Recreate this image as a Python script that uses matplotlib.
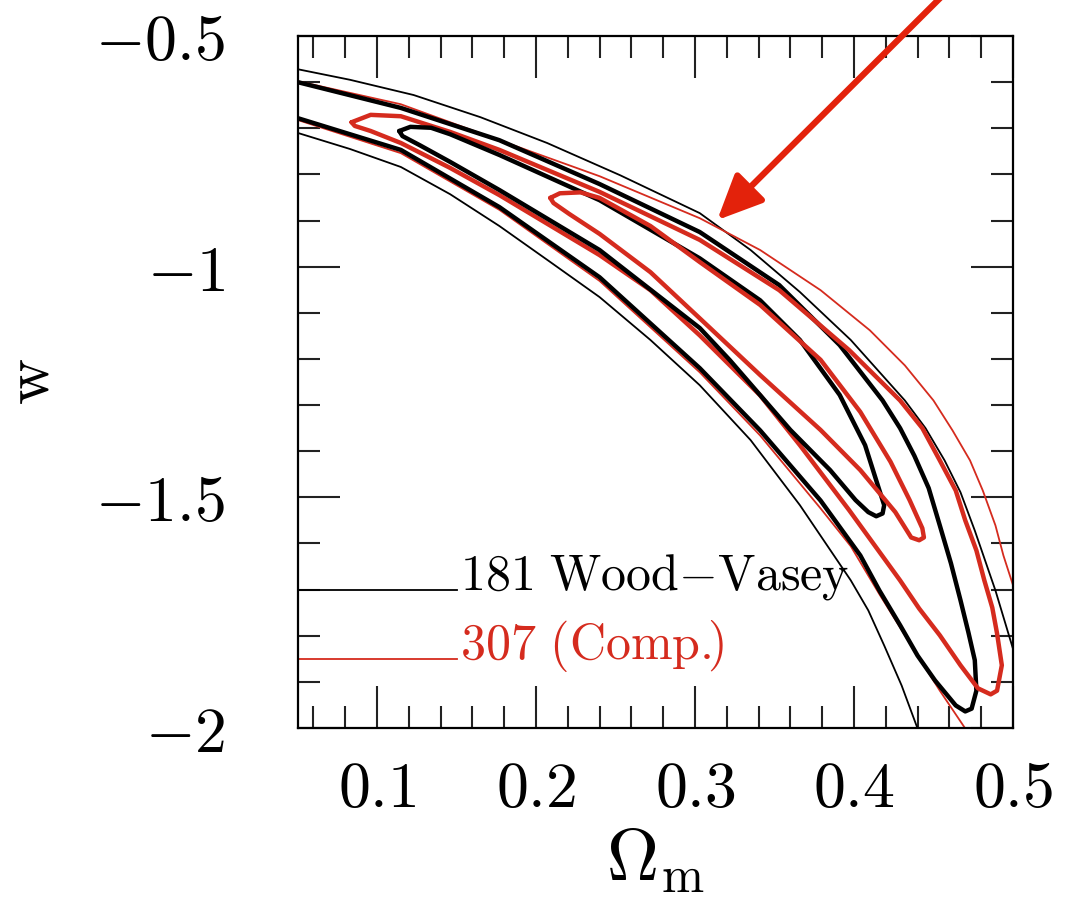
import matplotlib
matplotlib.use('Agg')
import matplotlib.pyplot as plt
import numpy as np
from matplotlib.ticker import MultipleLocator, FuncFormatter

plt.rcParams['mathtext.fontset'] = 'cm'
plt.rcParams['font.family'] = 'DejaVu Serif'

# 181 Wood-Vasey SNe: inner (closed), middle (open to the left) and outer contours
wv_in_om = [0.114, 0.121, 0.134, 0.146, 0.177, 0.240, 0.303, 0.341, 0.366, 0.391, 0.407, 0.415, 0.419,
            0.418, 0.414, 0.409, 0.401, 0.385, 0.360, 0.322, 0.303, 0.240, 0.177, 0.146, 0.127, 0.116]
wv_in_w = [-0.706, -0.697, -0.699, -0.713, -0.758, -0.856, -0.982, -1.073, -1.159, -1.278, -1.387, -1.474, -1.517,
           -1.535, -1.541, -1.532, -1.506, -1.441, -1.354, -1.203, -1.133, -0.964, -0.834, -0.773, -0.737, -0.717]

wv_mid_om = [0.050, 0.115, 0.177, 0.240, 0.303, 0.353, 0.391, 0.418, 0.429, 0.438, 0.447, 0.454, 0.461, 0.467,
             0.472, 0.476, 0.477, 0.474, 0.470, 0.464, 0.451, 0.440, 0.429, 0.416, 0.404, 0.379, 0.341, 0.303,
             0.240, 0.177, 0.115, 0.050]
wv_mid_w = [-0.600, -0.656, -0.726, -0.821, -0.925, -1.040, -1.170, -1.290, -1.350, -1.410, -1.480, -1.561, -1.643,
            -1.723, -1.793, -1.853, -1.919, -1.958, -1.964, -1.951, -1.897, -1.843, -1.777, -1.702, -1.626, -1.507,
            -1.355, -1.220, -1.023, -0.871, -0.747, -0.678]

wv_out_hi_om = [0.050, 0.083, 0.123, 0.165, 0.207, 0.253, 0.303, 0.335, 0.366, 0.398, 0.432, 0.445, 0.457, 0.467,
                0.476, 0.482, 0.489, 0.500]
wv_out_hi_w = [-0.572, -0.595, -0.628, -0.676, -0.732, -0.802, -0.884, -0.964, -1.055, -1.159, -1.290, -1.350,
               -1.420, -1.489, -1.572, -1.632, -1.702, -1.828]

wv_out_lo_om = [0.050, 0.083, 0.115, 0.146, 0.177, 0.209, 0.240, 0.272, 0.303, 0.335, 0.366, 0.398, 0.409,
                0.419, 0.430, 0.440]
wv_out_lo_w = [-0.710, -0.745, -0.784, -0.843, -0.912, -0.990, -1.066, -1.159, -1.257, -1.376, -1.517, -1.680,
               -1.745, -1.821, -1.908, -2.001]

# 307 SNe (compilation)
cp_in_om = [0.209, 0.215, 0.228, 0.240, 0.272, 0.303, 0.341, 0.379, 0.404, 0.423, 0.435, 0.443,
            0.444, 0.441, 0.436, 0.426, 0.404, 0.379, 0.341, 0.303, 0.272, 0.240, 0.221, 0.211]
cp_in_w = [-0.851, -0.841, -0.839, -0.851, -0.912, -0.990, -1.083, -1.202, -1.315, -1.423, -1.506, -1.567,
           -1.587, -1.593, -1.587, -1.532, -1.441, -1.354, -1.235, -1.112, -1.012, -0.929, -0.886, -0.862]

cp_mid_om = [0.084, 0.096, 0.115, 0.146, 0.177, 0.240, 0.303, 0.353, 0.397, 0.429, 0.443, 0.454, 0.464, 0.470,
             0.477, 0.482, 0.487, 0.490, 0.493, 0.490, 0.486, 0.478, 0.467, 0.454, 0.441, 0.429, 0.413, 0.397,
             0.366, 0.341, 0.303, 0.272, 0.240, 0.177, 0.146, 0.115, 0.096, 0.086]
cp_mid_w = [-0.687, -0.671, -0.674, -0.708, -0.747, -0.838, -0.942, -1.051, -1.181, -1.290, -1.350, -1.420, -1.485,
            -1.550, -1.615, -1.680, -1.739, -1.795, -1.864, -1.919, -1.927, -1.914, -1.864, -1.799, -1.741, -1.680,
            -1.604, -1.528, -1.387, -1.279, -1.149, -1.051, -0.975, -0.845, -0.786, -0.732, -0.706, -0.695]

cp_out_hi_om = [0.050, 0.115, 0.177, 0.240, 0.303, 0.341, 0.379, 0.410, 0.432, 0.450, 0.462, 0.473, 0.481,
                0.489, 0.494, 0.500]
cp_out_hi_w = [-0.598, -0.648, -0.726, -0.804, -0.895, -0.964, -1.051, -1.138, -1.214, -1.290, -1.355, -1.420,
               -1.485, -1.561, -1.626, -1.690]

cp_out_lo_om = [0.050, 0.115, 0.177, 0.240, 0.303, 0.341, 0.379, 0.398, 0.416, 0.435, 0.454, 0.470]
cp_out_lo_w = [-0.682, -0.754, -0.877, -1.031, -1.229, -1.366, -1.524, -1.606, -1.710, -1.815, -1.919, -2.001]

xticks = [0.1, 0.2, 0.3, 0.4, 0.5]
yticks = [-2, -1.5, -1, -0.5]

RED = '#d52b1e'

def closed(a):
    return np.append(a, a[0])

fig = plt.figure(figsize=(10.71, 9.08), dpi=100)
ax = fig.add_axes([0.2778, 0.1982, 0.668, 0.7622])

thin = dict(lw=1.3, solid_joinstyle='round', solid_capstyle='round')
thick = dict(lw=3.2, solid_joinstyle='round', solid_capstyle='round')

# outer contours
ax.plot(wv_out_hi_om, wv_out_hi_w, color='k', **thin)
ax.plot(wv_out_lo_om, wv_out_lo_w, color='k', **thin)
ax.plot(cp_out_hi_om, cp_out_hi_w, color=RED, **thin)
ax.plot(cp_out_lo_om, cp_out_lo_w, color=RED, **thin)

# middle and inner contours
ax.plot(wv_mid_om, wv_mid_w, color='k', **thick)
ax.plot(closed(cp_mid_om), closed(cp_mid_w), color=RED, **thick)
ax.plot(closed(wv_in_om), closed(wv_in_w), color='k', **thick)
ax.plot(closed(cp_in_om), closed(cp_in_w), color=RED, **thick)

# key
ax.plot([0.05, 0.150], [-1.70, -1.70], color='k', lw=1.3)
ax.plot([0.05, 0.150], [-1.85, -1.85], color=RED, lw=1.3)
ax.text(0.152, -1.70, r'$\mathrm{181\ Wood{-}Vasey}$', fontsize=36, color='k', va='baseline')
ax.text(0.152, -1.85, r'$\mathrm{307\ (Comp.\!\!)}$', fontsize=36, color=RED, va='baseline')

ax.set_xlim(0.05, 0.5)
ax.set_ylim(-2, -0.5)
ax.set_xticks(xticks)
ax.set_yticks(yticks)
ax.xaxis.set_minor_locator(MultipleLocator(0.02))
ax.yaxis.set_minor_locator(MultipleLocator(0.1))
ax.xaxis.set_major_formatter(FuncFormatter(lambda v, p: '$%g$' % v))
ax.yaxis.set_major_formatter(FuncFormatter(lambda v, p: '$%g$' % v))
ax.tick_params(which='both', direction='in', top=True, right=True, width=1.5, color='#222222')
ax.tick_params(which='major', length=30, labelsize=46)
ax.tick_params(which='minor', length=16)
ax.tick_params(axis='x', pad=22)
ax.tick_params(axis='y', pad=52)
for s in ax.spines.values():
    s.set_linewidth(1.6)

ax.set_xlabel(r'$\Omega_{\rm m}$', fontsize=52)
ax.xaxis.set_label_coords(0.5, -0.14)
ax.set_ylabel(r'$\mathrm{w}$', fontsize=46)
ax.yaxis.set_label_coords(-0.33, 0.5)

# arrow pointing at the outer contours
ax.annotate('', xy=(0.314, -0.899), xycoords='data',
            xytext=(0.91, 1.04), textcoords='figure fraction',
            arrowprops=dict(arrowstyle='-|>,head_length=1.1,head_width=0.5', mutation_scale=25,
                            lw=4.5, color='#e3220b', shrinkA=0, shrinkB=0),
            annotation_clip=False)

fig.savefig('out.png', dpi=100)
